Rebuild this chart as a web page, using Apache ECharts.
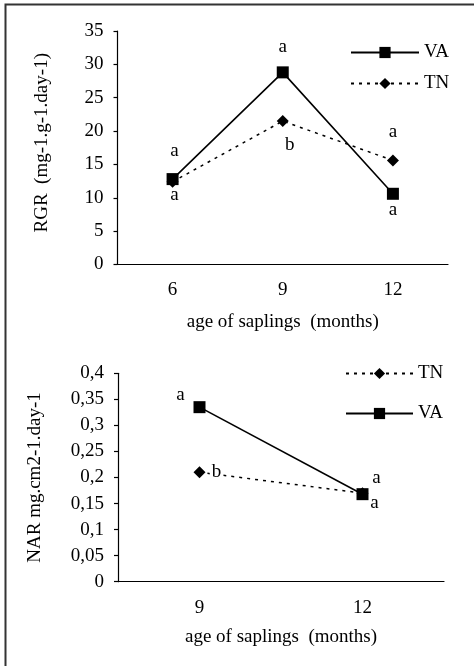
<!DOCTYPE html>
<html>
<head>
<meta charset="utf-8">
<script src="https://cdn.jsdelivr.net/npm/echarts@6/dist/echarts.min.js"></script>
<style>
    html, body { margin: 0; padding: 0; background: #fff; }
    #chart { width: 474px; height: 666px; }
</style>
</head>
<body>
<div id="chart"></div>
<script>
    // top chart: RGR
    const rgrAges = ['6', '9', '12'];
    const rgrVA = [12.8, 28.8, 10.6];
    const rgrTN = [12.4, 21.5, 15.6];
    const rgrVALetters = ['a', 'a', 'a'];
    const rgrTNLetters = ['a', 'b', 'a'];

    // bottom chart: NAR
    const narAges = ['9', '12'];
    const narVA = [0.335, 0.168];
    const narTN = [0.21, 0.17];
    const narVALetters = ['a', 'a'];
    const narTNLetters = ['b', 'a'];

    const FONT = 'Liberation Serif';
    const FS = 19;

    // letter offsets from the marker centre (layout only)
    const rgrVAOff = [[2, -28], [0, -25], [0, 16]];
    const rgrTNOff = [[2, 13], [7, 24], [0, -28]];
    const narVAOff = [[-19, -12], [12, 9]];
    const narTNOff = [[17, 0], [14, -15]];

    function items(values, letters, offsets, bg) {
        return values.map((v, i) => ({
            value: v,
            label: {
                formatter: letters[i],
                offset: offsets[i],
                backgroundColor: bg ? '#fff' : 'transparent',
                padding: bg ? [0, 2] : 0
            }
        }));
    }

    const letterLabel = {
        show: true,
        position: 'inside',
        color: '#000',
        fontFamily: FONT,
        fontSize: FS
    };

    const vaStyle = {
        type: 'line',
        symbol: 'rect',
        symbolSize: 12,
        itemStyle: { color: '#000' },
        lineStyle: { color: '#000', width: 1.6 },
        label: letterLabel,
        emphasis: { disabled: true }
    };
    const tnStyle = {
        type: 'line',
        symbol: 'diamond',
        symbolSize: 12,
        itemStyle: { color: '#000' },
        lineStyle: { color: '#000', width: 1.5, type: [3, 5] },
        label: letterLabel,
        emphasis: { disabled: true }
    };

    const axisText = { color: '#000', fontFamily: FONT, fontSize: FS };
    const legendText = { color: '#000', fontFamily: FONT, fontSize: FS, lineHeight: 14 };
    const axisLine = { lineStyle: { color: '#000', width: 1.2 } };
    const axisTick = { length: 4, lineStyle: { color: '#000', width: 1.2 } };

    let myChart = echarts.init(document.getElementById('chart'), null, { renderer: 'canvas' });
    myChart.setOption({
        animation: false,
        backgroundColor: '#fff',
        textStyle: { fontFamily: FONT },
        graphic: [{
            type: 'rect',
            shape: { x: 5.5, y: 4.5, width: 600, height: 800 },
            style: { fill: 'none', stroke: '#333', lineWidth: 2 },
            silent: true
        }],
        grid: [
            { left: 117.5, top: 31, width: 330.5, height: 233.5 },
            { left: 118, top: 373.3, width: 326, height: 208.4 }
        ],
        legend: [
            {
                orient: 'vertical',
                left: 350,
                top: 43,
                padding: 0,
                itemWidth: 68,
                itemHeight: 14,
                itemGap: 12,
                data: ['VA', 'TN'],
                textStyle: legendText,
                selectedMode: false
            },
            {
                orient: 'vertical',
                left: 345,
                top: 364,
                padding: 0,
                itemWidth: 67,
                itemHeight: 14,
                itemGap: 21,
                data: ['TN', 'VA'],
                textStyle: legendText,
                selectedMode: false
            }
        ],
        xAxis: [
            {
                gridIndex: 0,
                type: 'category',
                data: rgrAges,
                boundaryGap: true,
                axisLine: axisLine,
                axisTick: axisTick,
                axisLabel: Object.assign({ margin: 16 }, axisText),
                name: 'age of saplings  (months)',
                nameLocation: 'middle',
                nameGap: 48,
                nameTextStyle: axisText
            },
            {
                gridIndex: 1,
                type: 'category',
                data: narAges,
                boundaryGap: true,
                axisLine: axisLine,
                axisTick: axisTick,
                axisLabel: Object.assign({ margin: 17 }, axisText),
                name: 'age of saplings  (months)',
                nameLocation: 'middle',
                nameGap: 46,
                nameTextStyle: axisText
            }
        ],
        yAxis: [
            {
                gridIndex: 0,
                type: 'value',
                min: 0,
                max: 35,
                interval: 5,
                splitLine: { show: false },
                axisLine: Object.assign({ show: true }, axisLine),
                axisTick: Object.assign({ show: true }, axisTick),
                axisLabel: Object.assign({ margin: 14 }, axisText),
                name: 'RGR  (mg-1.g-1.day-1)',
                nameLocation: 'middle',
                nameGap: 66,
                nameTextStyle: Object.assign({ padding: [0, 0, 0, 10] }, axisText)
            },
            {
                gridIndex: 1,
                type: 'value',
                min: 0,
                max: 0.4,
                interval: 0.05,
                splitLine: { show: false },
                axisLine: Object.assign({ show: true }, axisLine),
                axisTick: Object.assign({ show: true }, axisTick),
                axisLabel: Object.assign({
                    margin: 14,
                    formatter: v => String(parseFloat(v.toFixed(2))).replace('.', ',')
                }, axisText),
                name: 'NAR mg.cm2-1.day-1',
                nameLocation: 'middle',
                nameGap: 73,
                nameTextStyle: axisText
            }
        ],
        series: [
            Object.assign({ name: 'VA', xAxisIndex: 0, yAxisIndex: 0, data: items(rgrVA, rgrVALetters, rgrVAOff) }, vaStyle),
            Object.assign({ name: 'TN', xAxisIndex: 0, yAxisIndex: 0, data: items(rgrTN, rgrTNLetters, rgrTNOff) }, tnStyle),
            Object.assign({ name: 'TN', xAxisIndex: 1, yAxisIndex: 1, data: items(narTN, narTNLetters, narTNOff, true) }, tnStyle),
            Object.assign({ name: 'VA', xAxisIndex: 1, yAxisIndex: 1, data: items(narVA, narVALetters, narVAOff) }, vaStyle)
        ]
    });
</script>
</body>
</html>
